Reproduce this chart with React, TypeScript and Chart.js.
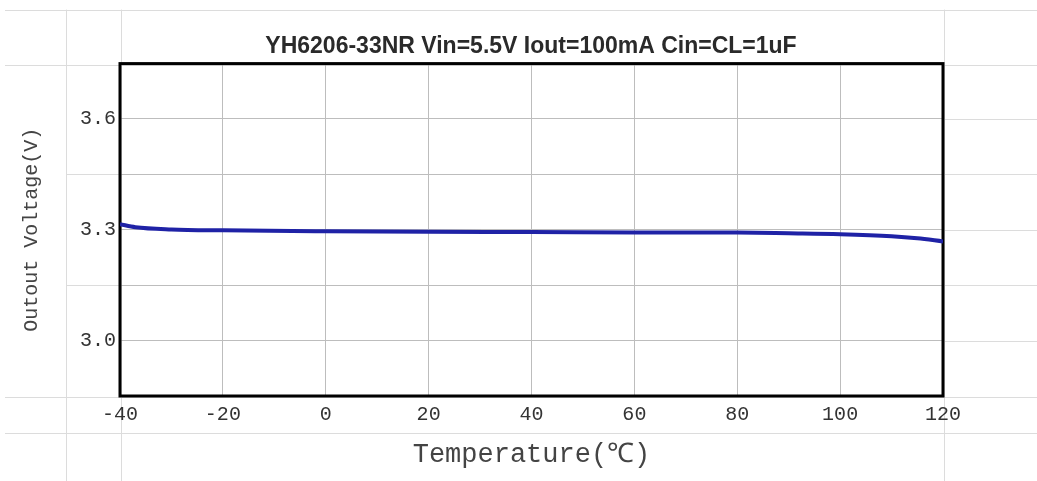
import React, { useEffect, useRef } from 'react';
import { Chart, registerables } from 'chart.js';

Chart.register(...registerables);

const temperatures = [-40, -37, -30, -20, 0, 20, 40, 60, 80, 90, 100, 110, 115, 120];
const outputVoltage = [3.315, 3.307, 3.301, 3.2985, 3.296, 3.2945, 3.294, 3.293, 3.2925, 3.2905, 3.288, 3.2825, 3.277, 3.2685];
const xTicks = [-40, -20, 0, 20, 40, 60, 80, 100, 120];
const yTicks = [2.85, 3.0, 3.15, 3.3, 3.45, 3.6, 3.75];
const yLabelled = [3.0, 3.3, 3.6];
const titleText = 'YH6206-33NR Vin=5.5V Iout=100mA Cin=CL=1uF';
const xTitle = 'Temperature(℃)';
const yTitle = 'Outout Voltage(V)';

const isLabelled = (v: number) => yLabelled.some((l) => Math.abs(l - v) < 1e-6);

const sheetPlugin = {
  id: 'sheet',
  beforeDraw(chart: any) {
    const { ctx, chartArea: a, width, height } = chart;
    const ys = chart.scales.y;
    ctx.save();
    ctx.fillStyle = '#ffffff';
    ctx.fillRect(0, 0, width, height);
    ctx.strokeStyle = '#dcdcdc';
    ctx.lineWidth = 1;
    const sheetTop = a.top - 54;
    const sheetBottom = a.bottom + 37;
    const sheetLeft = a.left - 54;
    const hLines = [sheetTop, a.top + 1, a.bottom + 1, sheetBottom];
    ctx.beginPath();
    hLines.forEach((y) => {
      ctx.moveTo(5, Math.round(y) + 0.5);
      ctx.lineTo(width, Math.round(y) + 0.5);
    });
    [sheetLeft, a.left + 1, a.right + 1].forEach((x) => {
      ctx.moveTo(Math.round(x) + 0.5, sheetTop);
      ctx.lineTo(Math.round(x) + 0.5, height);
    });
    yTicks.forEach((t, i) => {
      if (i === 0 || i === yTicks.length - 1) return;
      const y = Math.round(ys.getPixelForValue(t)) + 0.5;
      ctx.moveTo(a.right, y);
      ctx.lineTo(width, y);
      if (!isLabelled(t)) {
        ctx.moveTo(sheetLeft, y);
        ctx.lineTo(a.left, y);
      }
    });
    ctx.stroke();
    ctx.restore();
  },
  beforeDatasetsDraw(chart: any) {
    const { ctx, chartArea: a } = chart;
    ctx.save();
    ctx.strokeStyle = '#000000';
    ctx.lineWidth = 3;
    ctx.strokeRect(a.left, a.top, a.right - a.left, a.bottom - a.top);
    ctx.restore();
  },
};

export default function App() {
  const ref = useRef<HTMLCanvasElement | null>(null);

  useEffect(() => {
    if (!ref.current) return;
    const chart = new Chart(ref.current, {
      type: 'line',
      data: {
        datasets: [
          {
            label: 'Output Voltage',
            data: temperatures.map((t, i) => ({ x: t, y: outputVoltage[i] })),
            borderColor: '#1f22a6',
            borderWidth: 4,
            pointRadius: 0,
            tension: 0.4,
            cubicInterpolationMode: 'monotone',
            fill: false,
            yAxisID: 'y',
          },
        ],
      },
      options: {
        responsive: false,
        animation: false,
        layout: { padding: { left: 25, right: 0, top: 0, bottom: 0 } },
        plugins: {
          legend: { display: false },
          tooltip: { enabled: false },
          title: {
            display: true,
            text: titleText,
            color: '#2a2a2a',
            font: { family: 'Liberation Sans', size: 23, weight: 'bold' },
            padding: { top: 33, bottom: 3 },
          },
        },
        scales: {
          x: {
            type: 'linear',
            min: -40,
            max: 120,
            afterBuildTicks: (s: any) => {
              s.ticks = xTicks.map((v) => ({ value: v }));
            },
            afterFit: (s: any) => {
              s.height = 85;
            },
            grid: { color: '#bdbdbd', lineWidth: 1, drawTicks: false },
            border: { display: false },
            ticks: {
              color: '#333333',
              padding: 7,
              font: { family: 'Liberation Mono', size: 20 },
              callback: (v: any) => String(v),
            },
            title: {
              display: true,
              text: xTitle,
              color: '#444444',
              font: { family: 'Liberation Mono', size: 27 },
              padding: { top: 0, bottom: 10 },
            },
          },
          y: {
            type: 'linear',
            position: 'left',
            min: 2.85,
            max: 3.75,
            afterBuildTicks: (s: any) => {
              s.ticks = yTicks.map((v) => ({ value: v }));
            },
            afterFit: (s: any) => {
              s.width = 95;
            },
            grid: { color: '#bdbdbd', lineWidth: 1, drawTicks: false },
            border: { display: false },
            ticks: {
              color: '#333333',
              padding: 4,
              font: { family: 'Liberation Mono', size: 20 },
              callback: (v: any) => (isLabelled(Number(v)) ? Number(v).toFixed(1) : ''),
            },
            title: {
              display: true,
              text: yTitle,
              color: '#444444',
              font: { family: 'Liberation Mono', size: 20, lineHeight: 0.7 },
              padding: { top: 0, bottom: 0 },
            },
          },
          yRight: {
            type: 'linear',
            position: 'right',
            display: true,
            afterFit: (s: any) => {
              s.width = 94;
            },
            grid: { display: false, drawTicks: false },
            border: { display: false },
            ticks: { display: false },
          },
        },
      },
      plugins: [sheetPlugin],
    } as any);
    return () => chart.destroy();
  }, []);

  return (
    <div style={{ position: 'fixed', left: 0, top: 0, width: 1037, height: 481, background: '#fff' }}>
      <canvas ref={ref} width={1037} height={481} style={{ display: 'block', width: 1037, height: 481 }} />
    </div>
  );
}
